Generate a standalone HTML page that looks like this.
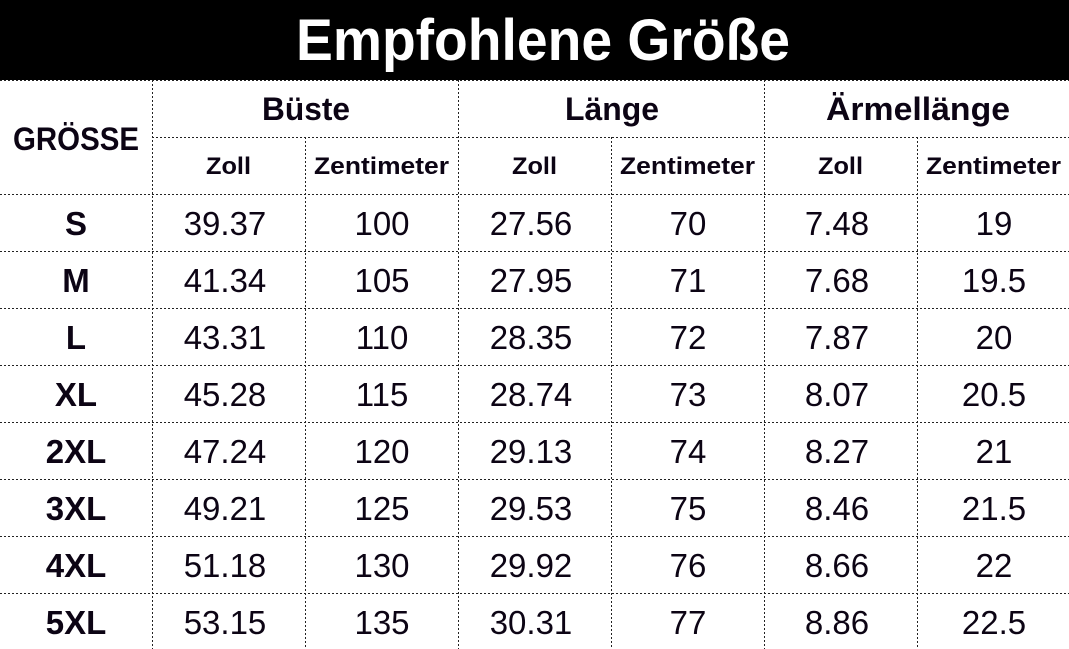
<!DOCTYPE html>
<html><head><meta charset="utf-8"><style>
html,body{margin:0;padding:0;background:#fff;}
svg{display:block;}
text{font-family:"Liberation Sans",sans-serif;fill:#0c0414;}
</style></head><body>
<svg width="1069" height="649" viewBox="0 0 1069 649" xmlns="http://www.w3.org/2000/svg">
<rect x="0" y="0" width="1069" height="80" fill="#000"/>
<text x="543" y="60" text-anchor="middle" font-size="58" font-weight="bold" style="fill:#fff" textLength="494" lengthAdjust="spacingAndGlyphs">Empfohlene Größe</text>
<g stroke="#222" stroke-width="1" stroke-dasharray="2,2" fill="none">
<line x1="0" y1="80.5" x2="1069" y2="80.5"/>
<line x1="152" y1="137.5" x2="1069" y2="137.5"/>
<line x1="0" y1="194.5" x2="1069" y2="194.5"/>
<line x1="0" y1="251.5" x2="1069" y2="251.5"/>
<line x1="0" y1="308.5" x2="1069" y2="308.5"/>
<line x1="0" y1="365.5" x2="1069" y2="365.5"/>
<line x1="0" y1="422.5" x2="1069" y2="422.5"/>
<line x1="0" y1="479.5" x2="1069" y2="479.5"/>
<line x1="0" y1="536.5" x2="1069" y2="536.5"/>
<line x1="0" y1="593.5" x2="1069" y2="593.5"/>
<line x1="152.5" y1="80" x2="152.5" y2="649"/>
<line x1="458.5" y1="80" x2="458.5" y2="649"/>
<line x1="764.5" y1="80" x2="764.5" y2="649"/>
<line x1="305.5" y1="137" x2="305.5" y2="649"/>
<line x1="611.5" y1="137" x2="611.5" y2="649"/>
<line x1="917.5" y1="137" x2="917.5" y2="649"/>
</g>
<g font-weight="bold" text-anchor="middle">
<text x="76" y="150" font-size="32" textLength="126" lengthAdjust="spacingAndGlyphs">GRÖSSE</text>
<text x="306" y="120" font-size="32" textLength="88" lengthAdjust="spacingAndGlyphs">Büste</text>
<text x="612" y="120" font-size="32" textLength="94" lengthAdjust="spacingAndGlyphs">Länge</text>
<text x="918" y="120" font-size="32" textLength="184" lengthAdjust="spacingAndGlyphs">Ärmellänge</text>
<g font-size="24">
<text x="228.5" y="174" textLength="45" lengthAdjust="spacingAndGlyphs">Zoll</text>
<text x="381.5" y="174" textLength="135" lengthAdjust="spacingAndGlyphs">Zentimeter</text>
<text x="534.5" y="174" textLength="45" lengthAdjust="spacingAndGlyphs">Zoll</text>
<text x="687.5" y="174" textLength="135" lengthAdjust="spacingAndGlyphs">Zentimeter</text>
<text x="840.5" y="174" textLength="45" lengthAdjust="spacingAndGlyphs">Zoll</text>
<text x="993.5" y="174" textLength="135" lengthAdjust="spacingAndGlyphs">Zentimeter</text>
</g>
<g font-size="33">
<text x="76" y="235">S</text>
<text x="76" y="292">M</text>
<text x="76" y="349">L</text>
<text x="76" y="406">XL</text>
<text x="76" y="463">2XL</text>
<text x="76" y="520">3XL</text>
<text x="76" y="577">4XL</text>
<text x="76" y="634">5XL</text>
</g>
</g>
<g font-size="33" text-anchor="middle">
<text x="225" y="235">39.37</text><text x="382" y="235">100</text><text x="531" y="235">27.56</text><text x="688" y="235">70</text><text x="837" y="235">7.48</text><text x="994" y="235">19</text>
<text x="225" y="292">41.34</text><text x="382" y="292">105</text><text x="531" y="292">27.95</text><text x="688" y="292">71</text><text x="837" y="292">7.68</text><text x="994" y="292">19.5</text>
<text x="225" y="349">43.31</text><text x="382" y="349">110</text><text x="531" y="349">28.35</text><text x="688" y="349">72</text><text x="837" y="349">7.87</text><text x="994" y="349">20</text>
<text x="225" y="406">45.28</text><text x="382" y="406">115</text><text x="531" y="406">28.74</text><text x="688" y="406">73</text><text x="837" y="406">8.07</text><text x="994" y="406">20.5</text>
<text x="225" y="463">47.24</text><text x="382" y="463">120</text><text x="531" y="463">29.13</text><text x="688" y="463">74</text><text x="837" y="463">8.27</text><text x="994" y="463">21</text>
<text x="225" y="520">49.21</text><text x="382" y="520">125</text><text x="531" y="520">29.53</text><text x="688" y="520">75</text><text x="837" y="520">8.46</text><text x="994" y="520">21.5</text>
<text x="225" y="577">51.18</text><text x="382" y="577">130</text><text x="531" y="577">29.92</text><text x="688" y="577">76</text><text x="837" y="577">8.66</text><text x="994" y="577">22</text>
<text x="225" y="634">53.15</text><text x="382" y="634">135</text><text x="531" y="634">30.31</text><text x="688" y="634">77</text><text x="837" y="634">8.86</text><text x="994" y="634">22.5</text>
</g>
</svg>
</body></html>
